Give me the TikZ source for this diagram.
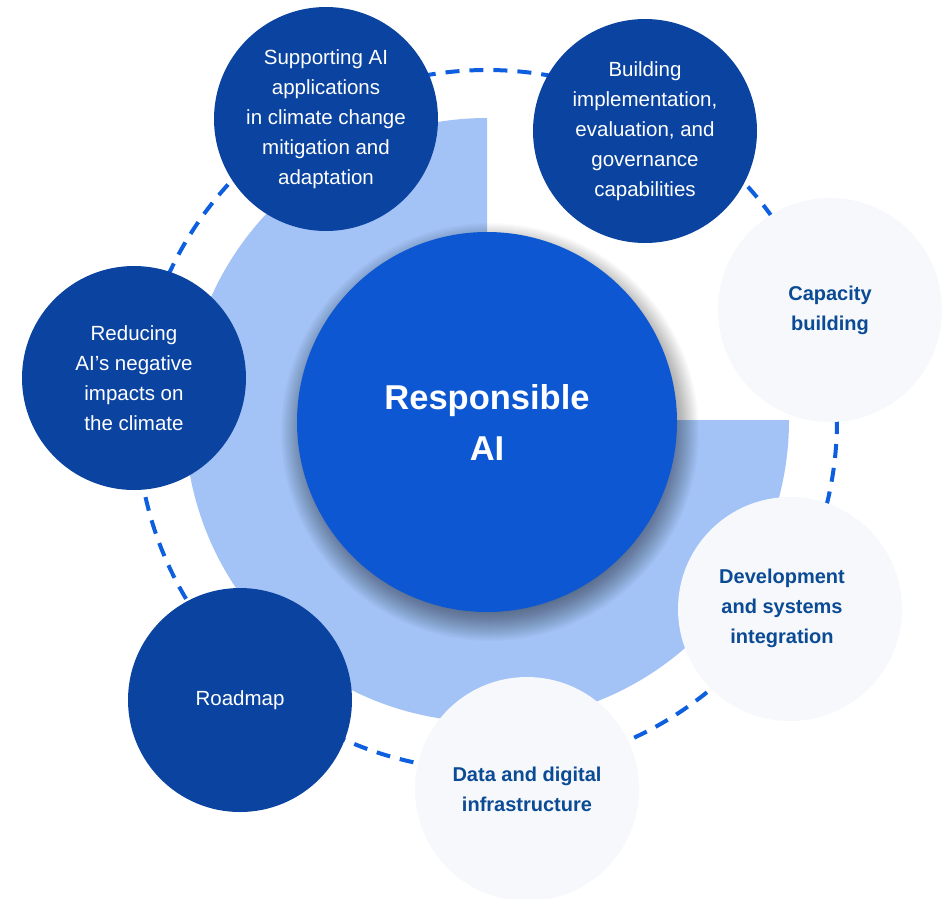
\documentclass[tikz,border=0pt]{standalone}
\usepackage{fontspec}
\setmainfont{Liberation Sans}
\definecolor{darkc}{HTML}{0B44A0}
\definecolor{mainc}{HTML}{0D58D2}
\definecolor{sectc}{HTML}{A3C2F5}
\definecolor{lightc}{HTML}{F6F8FB}
\definecolor{ltext}{HTML}{0B4A94}
\definecolor{dashc}{HTML}{0E5FE0}
\begin{document}
\begin{tikzpicture}[x=1pt,y=-1pt,
  darknode/.style={circle, fill=darkc, minimum size=224pt, inner sep=0pt, text=white, align=center, font=\fontsize{20.5}{30}\selectfont},
  lightnode/.style={circle, fill=lightc, minimum size=224pt, inner sep=0pt, text=ltext, align=center, font=\bfseries\fontsize{20}{30}\selectfont},
  coretext/.style={circle, fill=mainc, minimum size=380pt, inner sep=0pt, text=white, align=center, font=\bfseries\fontsize{34.5}{51}\selectfont},
  shadowlayer/.style={fill=black, opacity=0.016},
  ring/.style={dashc, line width=4pt, dash pattern=on 14pt off 10pt}
]
\useasboundingbox (0,0) rectangle (942,898);
\fill[white] (0,0) rectangle (942,898);
% light blue three-quarter disc
\fill[sectc] (487,420) -- (487,118) arc[start angle=-90, end angle=-360, radius=302] -- cycle;
% dashed ring
\draw[ring] (487,420) circle[radius=350];
% soft shadow of the centre
\foreach \k in {0,...,29} {
  \fill[shadowlayer] (490,432) circle[radius=180+\k];
}
% centre
\node[coretext] (core) at (487,422) {Responsible\\AI};
% satellites
\node[darknode] (supp) at (326,119) {Supporting AI\\applications\\in climate change\\mitigation and\\adaptation};
\node[darknode] (build) at (645,131) {Building\\implementation,\\evaluation, and\\governance\\capabilities};
\node[lightnode] (cap) at (830,310) {Capacity\\building};
\node[lightnode] (dev) at (790,609) {};
\node[text=ltext, align=center, font=\bfseries\fontsize{20}{30}\selectfont, inner sep=0pt] (devtxt) at (782,608) {Development\\and systems\\integration};
\node[lightnode] (data) at (527,789) {Data and digital\\infrastructure};
\node[darknode] (road) at (240,700) {Roadmap};
\node[darknode] (red) at (134,378) {Reducing\\AI’s negative\\impacts on\\the climate};
\end{tikzpicture}
\end{document}
